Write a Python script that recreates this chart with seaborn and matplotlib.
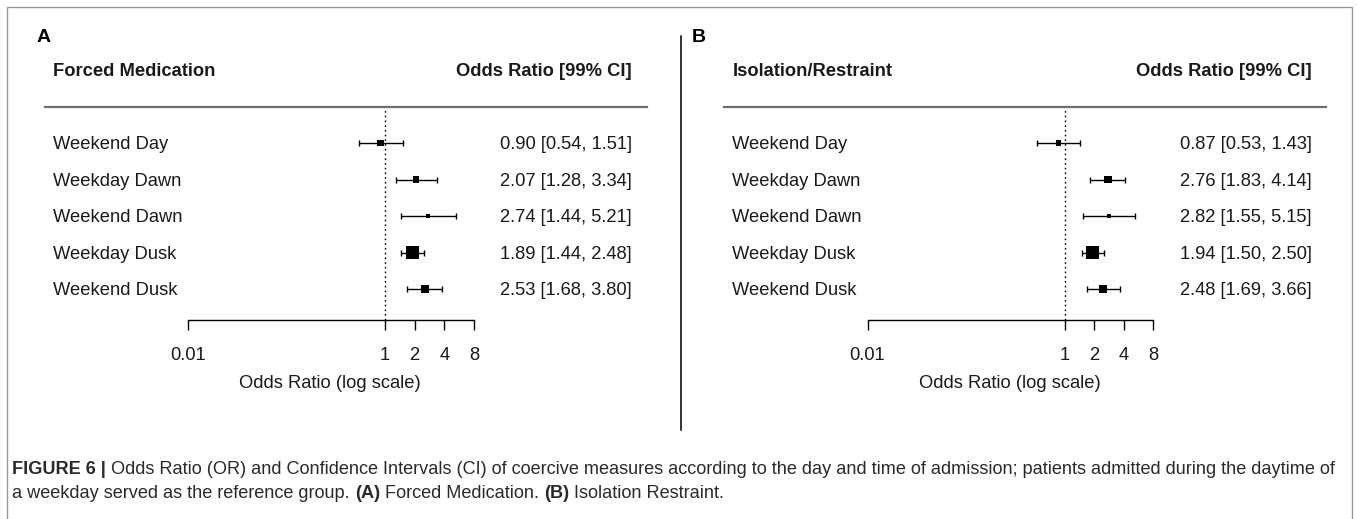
import numpy as np
import pandas as pd
import matplotlib
matplotlib.use("Agg")
import matplotlib.pyplot as plt
import matplotlib.transforms as mtransforms
from matplotlib.lines import Line2D
from matplotlib.patches import Rectangle
import seaborn as sns

# ---------------- data ----------------
labels = ["Weekend Day", "Weekday Dawn", "Weekend Dawn", "Weekday Dusk", "Weekend Dusk"]

or_a = [0.90, 2.07, 2.74, 1.89, 2.53]
lo_a = [0.54, 1.28, 1.44, 1.44, 1.68]
hi_a = [1.51, 3.34, 5.21, 2.48, 3.80]

or_b = [0.87, 2.76, 2.82, 1.94, 2.48]
lo_b = [0.53, 1.83, 1.55, 1.50, 1.69]
hi_b = [1.43, 4.14, 5.15, 2.50, 3.66]

panel_titles = ["Forced Medication", "Isolation/Restraint"]
panel_letters = ["A", "B"]
xticks = [0.01, 1, 2, 4, 8]
xtick_labels = ["0.01", "1", "2", "4", "8"]

# ---------------- style ----------------
sns.set_theme(style="white")
plt.rcParams["font.family"] = ["Liberation Sans", "DejaVu Sans"]

W, H = 1357, 519
fig = plt.figure(figsize=(W / 100, H / 100), dpi=100)
fig.patch.set_facecolor("white")

def fx(px):
    return px / W

def fy(py):
    return 1 - py / H

TXT = "#1a1a1a"
FS = 13.2

# outer border
fig.patches.append(Rectangle((fx(7), fy(530)), fx(1352) - fx(7), fy(7) - fy(530),
                             transform=fig.transFigure, fill=False,
                             edgecolor="#9a9a9a", lw=1.0))
# divider
fig.lines.append(Line2D([fx(681), fx(681)], [fy(36), fy(430)],
                        transform=fig.transFigure, color="#333333", lw=1.4))

x1_px = 385.0          # pixel x of OR = 1 in panel A
dec_px = 98.5          # pixels per decade
row0_px, row_step = 143.0, 36.5
top_px, axis_px = 107.0, 320.0
line_l, line_r = 44.5, 646.6
panel_dx = 679.5

panels = [(or_a, lo_a, hi_a), (or_b, lo_b, hi_b)]

for p, (orv, lov, hiv) in enumerate(panels):
    dx = panel_dx * p
    df = pd.DataFrame({"label": labels, "or": orv, "lo": lov, "hi": hiv})
    df["row"] = np.arange(len(df))
    # box size ~ precision (metafor style: rescaled 1/se)
    inv_se = 1.0 / (np.log(df["hi"]) - np.log(df["lo"]))
    psize = 0.5 + (inv_se - inv_se.min()) / (inv_se.max() - inv_se.min())
    side_pt = psize.values * 8.8 * 0.72

    ax = fig.add_axes([fx(line_l + dx), fy(axis_px),
                       fx(line_r) - fx(line_l), fy(top_px) - fy(axis_px)])
    ax.set_xscale("log")
    xl = 10 ** ((line_l - x1_px) / dec_px)
    xr = 10 ** ((line_r - x1_px) / dec_px)
    ax.set_xlim(xl, xr)
    ylo = (axis_px - row0_px) / row_step
    yhi = (top_px - row0_px) / row_step
    ax.set_ylim(ylo, yhi)
    ax.set_facecolor("none")

    # reference line
    ax.axvline(1, color="black", ls=(0, (1.2, 2.2)), lw=1.0, zorder=1)
    # CIs
    ax.errorbar(df["or"], df["row"],
                xerr=[df["or"] - df["lo"], df["hi"] - df["or"]],
                fmt="none", ecolor="black", elinewidth=1.0, capsize=2.3,
                capthick=1.0, zorder=2)
    sns.scatterplot(data=df, x="or", y="row", marker="s", color="black",
                    s=side_pt ** 2, linewidth=0, ax=ax, zorder=3, legend=False)

    # spines
    for s in ["left", "right"]:
        ax.spines[s].set_visible(False)
    ax.spines["top"].set_color("#6e6e6e")
    ax.spines["top"].set_linewidth(1.6)
    ax.spines["bottom"].set_color("black")
    ax.spines["bottom"].set_linewidth(1.0)
    ax.spines["bottom"].set_bounds(xticks[0], xticks[-1])
    ax.set_yticks([])
    ax.set_xticks(xticks)
    ax.set_xticklabels(xtick_labels)
    ax.xaxis.set_minor_locator(matplotlib.ticker.NullLocator())
    ax.tick_params(axis="x", which="major", direction="out", length=7.2,
                   width=1.0, color="black", pad=12, labelsize=FS,
                   labelcolor=TXT, bottom=True)
    ax.set_xlabel("Odds Ratio (log scale)", fontsize=FS, color=TXT, va="center")
    hb = axis_px - top_px
    ax.xaxis.set_label_coords((330 - line_l) / (line_r - line_l),
                              -(384 - axis_px) / hb)
    ax.set_ylabel("")

    tr = mtransforms.blended_transform_factory(fig.transFigure, ax.transData)
    for _, r in df.iterrows():
        ax.text(fx(53 + dx), r["row"] + 0.05, r["label"], transform=tr, ha="left",
                va="center", fontsize=FS, color=TXT)
        ax.text(fx(632 + dx), r["row"] + 0.05,
                f"{r['or']:.2f} [{r['lo']:.2f}, {r['hi']:.2f}]",
                transform=tr, ha="right", va="center", fontsize=FS, color=TXT)

    fig.text(fx(53 + dx), fy(72), panel_titles[p], ha="left", va="center",
             fontsize=FS, fontweight="bold", color=TXT)
    fig.text(fx(632 + dx), fy(72), "Odds Ratio [99% CI]", ha="right",
             va="center", fontsize=FS, fontweight="bold", color=TXT)
    fig.text(fx([37, 692][p]), fy(37), panel_letters[p], ha="left", va="center",
             fontsize=14, fontweight="bold", color="black")

# ---------------- caption ----------------
cap_lines = [
    [("FIGURE 6 | ", "bold"),
     ("Odds Ratio (OR) and Confidence Intervals (CI) of coercive measures according to the day and time of admission; patients admitted during the daytime of", "normal")],
    [("a weekday served as the reference group. ", "normal"), ("(A)", "bold"),
     (" Forced Medication. ", "normal"), ("(B)", "bold"), (" Isolation Restraint.", "normal")],
]
cap_y = [470, 494]
fig.canvas.draw()
renderer = fig.canvas.get_renderer()
for line, yy in zip(cap_lines, cap_y):
    xpos = 12.0
    for txt, wt in line:
        t = fig.text(fx(xpos), fy(yy), txt, ha="left", va="center", fontsize=13.1,
                     fontweight=wt, color="#2a2a2a")
        bb = t.get_window_extent(renderer=renderer)
        xpos += bb.width

fig.savefig("out.png", dpi=100, facecolor="white")
